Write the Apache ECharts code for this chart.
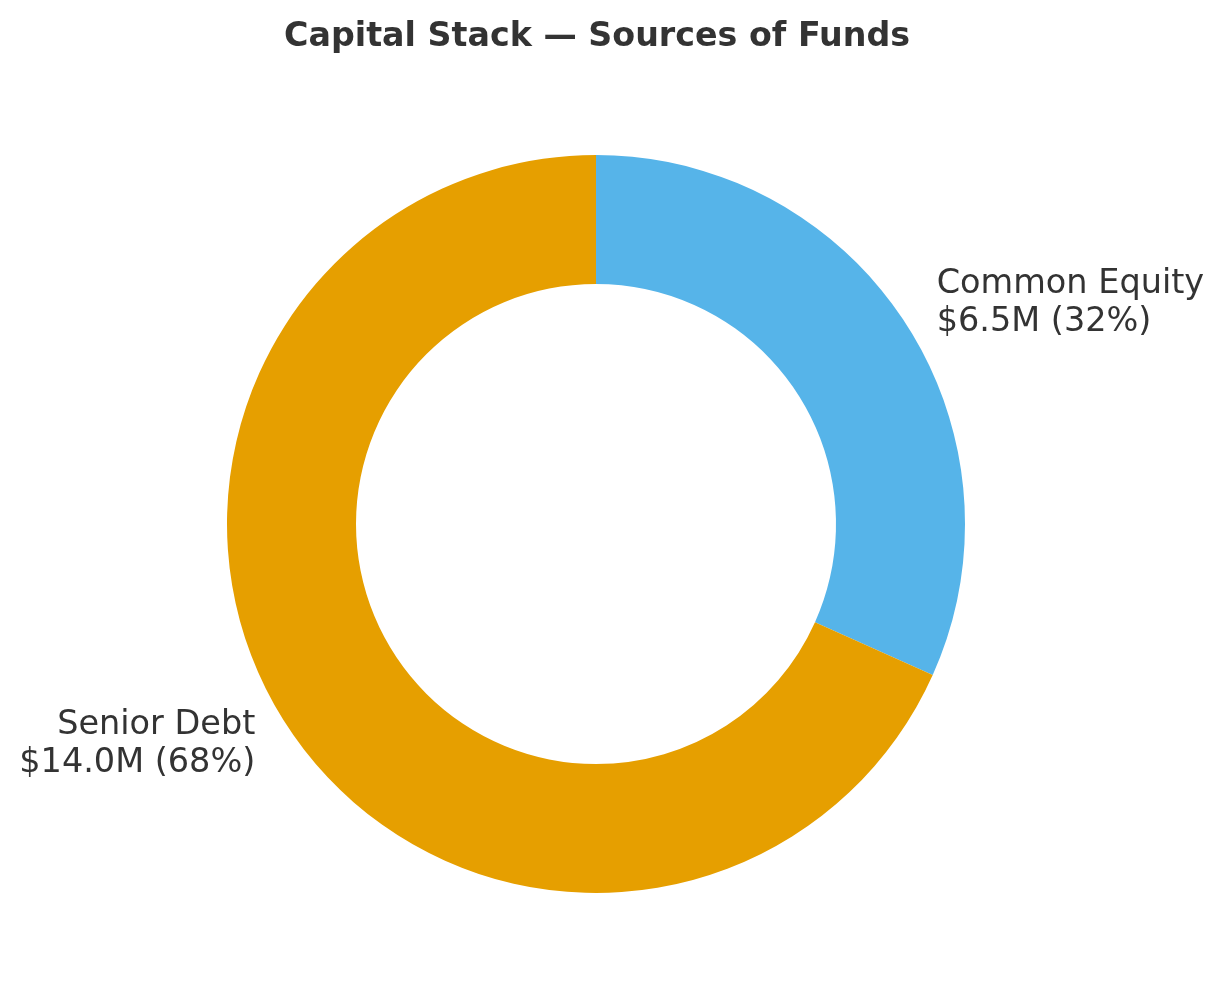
<!DOCTYPE html>
<html>
<head>
<meta charset="utf-8">
<script src="https://cdn.jsdelivr.net/npm/echarts@6/dist/echarts.min.js"></script>
<style>
html,body{margin:0;padding:0;background:#fff;}
#chart{width:1224px;height:1006px;}
</style>
</head>
<body>
<div id="chart"></div>
<script>
const categories = ['Common Equity', 'Senior Debt'];
const values = [6.5, 14.0];
const colors = ['#56B4E9', '#E69F00'];
const titleText = 'Capital Stack — Sources of Funds';

const total = values.reduce((a, b) => a + b, 0);
const chart = echarts.init(document.getElementById('chart'), null, {renderer: 'canvas'});
const outerR = 369;
chart.setOption({
  backgroundColor: '#ffffff',
  animation: false,
  title: {
    text: titleText,
    left: 279,
    top: 16,
    textStyle: {
      fontFamily: 'DejaVu Sans',
      fontWeight: 'bold',
      fontSize: 33.3,
      color: '#333333'
    }
  },
  series: [{
    type: 'pie',
    center: [596, 524],
    radius: [240, outerR],
    startAngle: 90,
    clockwise: true,
    avoidLabelOverlap: false,
    silent: true,
    label: {
      show: true,
      position: 'outside',
      alignTo: 'none',
      distanceToLabelLine: 0,
      fontFamily: 'DejaVu Sans',
      fontSize: 33.5,
      lineHeight: 38,
      color: '#333333',
      formatter: p => p.name + '\n$' + p.value.toFixed(1) + 'M (' + Math.round(p.value / total * 100) + '%)'
    },
    labelLine: { show: false, length: outerR * 0.1, length2: 0 },
    itemStyle: { borderWidth: 0 },
    data: categories.map((c, i) => ({ name: c, value: values[i], itemStyle: { color: colors[i] } }))
  }]
});
</script>
</body>
</html>
